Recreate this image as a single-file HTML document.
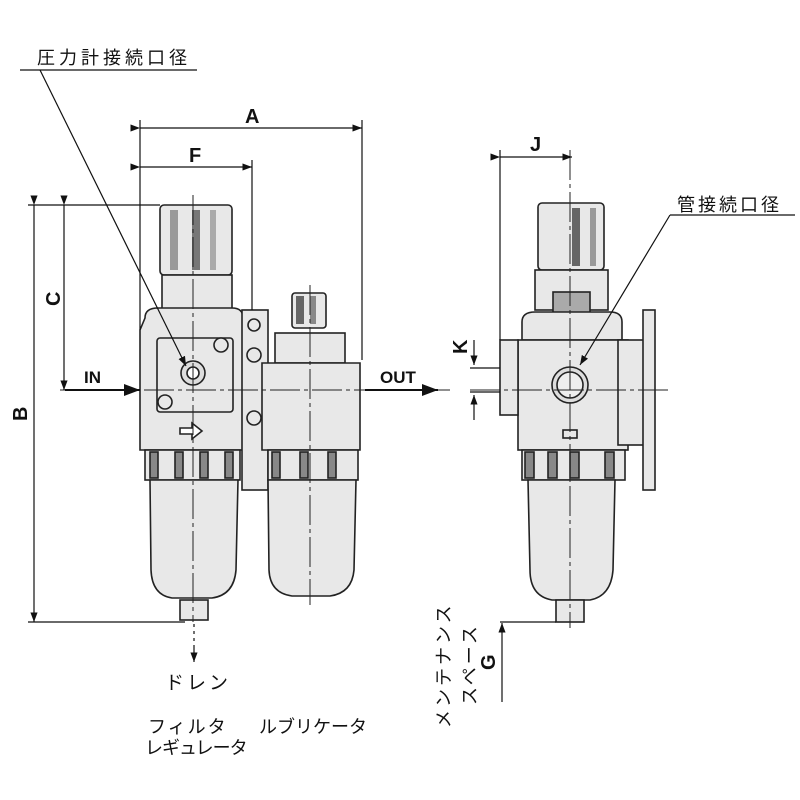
<!DOCTYPE html>
<html><head><meta charset="utf-8"><style>
body{margin:0;background:#fff}
svg{display:block}
text{font-family:"Liberation Sans","Noto Sans CJK JP",sans-serif;fill:#111}
</style></head><body>
<svg width="800" height="800" viewBox="0 0 800 800" xmlns="http://www.w3.org/2000/svg">
<defs>
<marker id="ar" markerWidth="8" markerHeight="6" refX="8" refY="3" orient="auto"><path d="M0,0L8,3L0,6z" fill="#111"/></marker>
</defs>
<g stroke="#222" stroke-width="1.6" fill="#e8e8e8">
<rect x="160" y="205" width="72" height="70" rx="4"/>
<rect x="170" y="210" width="8" height="60" fill="#999" stroke="none"/>
<rect x="192" y="210" width="8" height="60" fill="#777" stroke="none"/>
<rect x="210" y="210" width="6" height="60" fill="#aaa" stroke="none"/>
<rect x="162" y="275" width="70" height="35"/>
<path d="M145,318 Q145,308 158,308 L232,308 Q243,308 243,318 L243,450 L140,450 L140,330 Z"/>
<rect x="157" y="338" width="76" height="74" rx="3"/>
<circle cx="193" cy="373" r="12" fill="#ddd"/>
<circle cx="193" cy="373" r="6" fill="#fff"/>
<circle cx="165" cy="402" r="7"/>
<circle cx="221" cy="345" r="7"/>
<path d="M180,428 h12 v-5 l10,8 l-10,8 v-5 h-12z" fill="#fff"/>
<rect x="145" y="450" width="95" height="30"/>
<rect x="150" y="452" width="8" height="26" fill="#888"/><rect x="175" y="452" width="8" height="26" fill="#888"/><rect x="200" y="452" width="8" height="26" fill="#888"/><rect x="225" y="452" width="8" height="26" fill="#888"/>
<path d="M150,480 L238,480 L236,570 Q234,595 212,598 L172,598 Q152,595 151,570 Z"/>
<rect x="180" y="600" width="28" height="20"/>
<rect x="242" y="310" width="26" height="180"/>
<circle cx="254" cy="325" r="6"/><circle cx="254" cy="355" r="7"/><circle cx="254" cy="418" r="7"/>
<rect x="292" y="293" width="34" height="35" rx="3"/>
<rect x="296" y="296" width="8" height="28" fill="#666" stroke="none"/><rect x="310" y="296" width="6" height="28" fill="#888" stroke="none"/>
<rect x="275" y="333" width="70" height="30"/>
<path d="M262,363 L360,363 L360,450 L262,450 Z"/>
<rect x="268" y="450" width="90" height="30"/>
<rect x="272" y="452" width="8" height="26" fill="#888"/><rect x="300" y="452" width="8" height="26" fill="#888"/><rect x="328" y="452" width="8" height="26" fill="#888"/>
<path d="M268,480 L356,480 L354,570 Q352,593 330,596 L292,596 Q270,593 269,570 Z"/>
<rect x="538" y="203" width="66" height="67" rx="4"/>
<rect x="572" y="208" width="8" height="58" fill="#666" stroke="none"/><rect x="590" y="208" width="6" height="58" fill="#999" stroke="none"/>
<rect x="535" y="270" width="73" height="40"/>
<rect x="553" y="292" width="37" height="30" fill="#aaa"/>
<path d="M522,322 Q522,312 535,312 L610,312 Q622,312 622,322 L622,340 L522,340 Z"/>
<rect x="518" y="340" width="110" height="110"/>
<rect x="500" y="340" width="18" height="75"/>
<rect x="618" y="340" width="28" height="105"/>
<rect x="643" y="310" width="12" height="180"/>
<circle cx="570" cy="385" r="18" fill="#ddd"/>
<circle cx="570" cy="385" r="13" fill="#eee"/>
<rect x="563" y="430" width="14" height="8"/>
<rect x="522" y="450" width="103" height="30"/>
<rect x="525" y="452" width="9" height="26" fill="#888"/><rect x="548" y="452" width="9" height="26" fill="#888"/><rect x="570" y="452" width="9" height="26" fill="#888"/><rect x="605" y="452" width="9" height="26" fill="#888"/>
<path d="M528,480 L615,480 L613,570 Q611,596 590,600 L552,600 Q530,596 530,570 Z"/>
<rect x="556" y="600" width="28" height="22"/>
</g>
<g stroke="#222" stroke-width="1" fill="none">
<line x1="193" y1="195" x2="193" y2="622" stroke-dasharray="30,4,4,4"/>
<line x1="310" y1="285" x2="310" y2="605" stroke-dasharray="30,4,4,4"/>
<line x1="570" y1="150" x2="570" y2="628" stroke-dasharray="30,4,4,4"/>
<line x1="60" y1="390" x2="450" y2="390" stroke-dasharray="30,4,4,4"/>
<line x1="470" y1="390" x2="670" y2="390" stroke-dasharray="30,4,4,4"/>
</g>
<g stroke="#111" stroke-width="1.2" fill="none">
<line x1="140" y1="120" x2="140" y2="330"/><line x1="362" y1="120" x2="362" y2="360"/>
<line x1="140" y1="128" x2="362" y2="128" marker-end="url(#ar)" marker-start="url(#ar)"/>
<line x1="252" y1="160" x2="252" y2="310"/>
<line x1="140" y1="167" x2="252" y2="167" marker-end="url(#ar)" marker-start="url(#ar)"/>
<line x1="28" y1="205" x2="160" y2="205"/><line x1="28" y1="622" x2="185" y2="622"/>
<line x1="34" y1="205" x2="34" y2="622" marker-end="url(#ar)" marker-start="url(#ar)"/>
<line x1="64" y1="205" x2="64" y2="390" marker-end="url(#ar)" marker-start="url(#ar)"/>
<line x1="65" y1="390" x2="140" y2="390" stroke-width="2" marker-end="url(#ar)"/>
<line x1="365" y1="390" x2="438" y2="390" stroke-width="2" marker-end="url(#ar)"/>
<line x1="500" y1="150" x2="500" y2="340"/>
<line x1="500" y1="157" x2="572" y2="157" marker-end="url(#ar)" marker-start="url(#ar)"/>
<line x1="474" y1="340" x2="474" y2="365" marker-end="url(#ar)"/>
<line x1="474" y1="420" x2="474" y2="395" marker-end="url(#ar)"/>
<line x1="470" y1="368" x2="500" y2="368"/><line x1="470" y1="392" x2="500" y2="392"/>
<line x1="500" y1="622" x2="556" y2="622"/>
<line x1="502" y1="702" x2="502" y2="623" marker-end="url(#ar)"/>
<line x1="194" y1="624" x2="194" y2="650" stroke-dasharray="3,4"/>
<line x1="194" y1="648" x2="194" y2="662" marker-end="url(#ar)"/>
<line x1="20" y1="70" x2="197" y2="70"/>
<line x1="40" y1="70" x2="186" y2="366" marker-end="url(#ar)"/>
<line x1="670" y1="215" x2="795" y2="215"/>
<line x1="670" y1="215" x2="580" y2="365" marker-end="url(#ar)"/>
</g>
<g font-weight="bold" font-size="20">
<text x="245" y="123">A</text>
<text x="189" y="162">F</text>
<text x="530" y="151">J</text>
<text x="84" y="383" font-size="17">IN</text>
<text x="380" y="383" font-size="17">OUT</text>
<text transform="translate(60,306) rotate(-90)">C</text>
<text transform="translate(27,421) rotate(-90)">B</text>
<text transform="translate(467,354) rotate(-90)">K</text>
<text transform="translate(495,670) rotate(-90)">G</text>
</g>
<g font-size="18">
<text x="37" y="64" letter-spacing="4">圧力計接続口径</text>
<text x="677" y="211" letter-spacing="3">管接続口径</text>
<text x="165" y="689" font-size="19" letter-spacing="3">ドレン</text>
<text x="148" y="733" letter-spacing="2">フィルタ</text>
<text x="145" y="754" letter-spacing="-1">レギュレータ</text>
<text x="259" y="733">ルブリケータ</text>
<text transform="translate(450,728) rotate(-90)" letter-spacing="3">メンテナンス</text>
<text transform="translate(476,705) rotate(-90)" letter-spacing="3">スペース</text>
</g>
</svg>
</body></html>
